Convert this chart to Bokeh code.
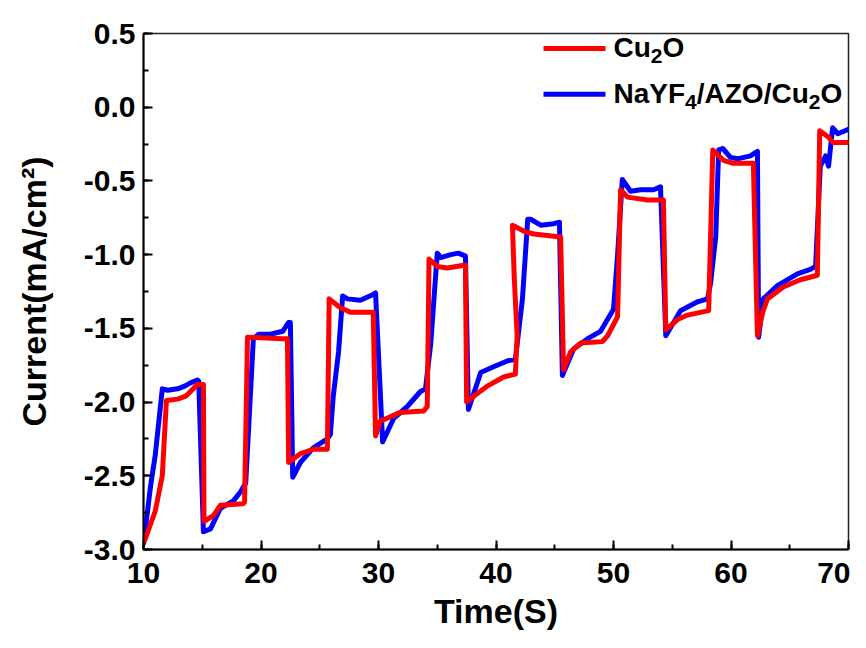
from bokeh.plotting import figure
from bokeh.models import Range1d, SingleIntervalTicker, NumeralTickFormatter, Label, BoxAnnotation
from bokeh.embed import file_html
from bokeh.resources import INLINE

# Cu2O
t_cu2o = [10.0, 11.0, 11.6, 11.95, 12.9, 13.6, 14.6, 15.1, 15.15, 15.95, 16.55, 18.45, 18.6, 18.85,
          21.9, 22.25, 22.35, 23.35, 24.5, 25.65, 25.8, 26.75, 27.6, 29.55, 29.75, 30.15, 31.85,
          33.85, 34.15, 34.3, 35.0, 35.85, 37.4, 37.5, 38.1, 39.3, 40.65, 41.65, 41.8, 41.55, 41.4,
          42.35, 43.2, 45.5, 45.75, 46.35, 47.2, 49.05, 49.5, 50.35, 50.6, 51.2, 52.9, 54.25, 54.45,
          55.45, 56.3, 58.1, 58.45, 59.35, 60.2, 61.9, 62.25, 62.7, 63.1, 64.45, 65.9, 67.35, 67.55,
          68.25, 68.7, 70.0]
j_cu2o = [-2.96, -2.74, -2.50, -1.99, -1.98, -1.96, -1.88, -1.88, -2.81, -2.77, -2.70, -2.69, -2.68, -1.56,
          -1.57, -1.57, -2.41, -2.35, -2.32, -2.32, -1.30, -1.36, -1.39, -1.39, -2.23, -2.13, -2.07,
          -2.06, -2.03, -1.03, -1.08, -1.09, -1.07, -2.00, -1.96, -1.89, -1.83, -1.81, -1.55, -1.15, -0.80,
          -0.84, -0.86, -0.88, -1.78, -1.66, -1.60, -1.59, -1.55, -1.42, -0.56, -0.61, -0.63, -0.63, -1.51,
          -1.44, -1.41, -1.38, -0.29, -0.36, -0.38, -0.38, -1.55, -1.39, -1.30, -1.22, -1.17, -1.14, -0.16,
          -0.20, -0.24, -0.24]

# NaYF4/AZO/Cu2O
t_nayf = [10.1, 10.6, 11.0, 11.6, 12.05, 12.9, 13.55, 14.0, 14.6, 14.7, 15.1, 15.7, 16.55, 17.65, 18.25,
          18.7, 19.35, 19.8, 20.8, 21.85, 22.35, 22.5, 22.7, 23.35, 24.45, 25.65, 25.9, 26.15, 26.6,
          26.95, 27.35, 28.45, 29.55, 29.75, 30.35, 31.3, 32.45, 33.55, 34.0, 34.45, 35.0, 35.3, 36.15,
          36.8, 37.4, 37.65, 38.7, 39.8, 41.0, 41.65, 42.25, 42.7, 42.95, 43.8, 44.9, 45.4, 45.65, 46.6,
          47.8, 48.9, 50.0, 50.35, 50.75, 51.45, 52.3, 53.4, 54.0, 54.45, 55.7, 57.15, 58.0, 58.25, 58.7,
          58.95, 59.3, 59.95, 60.55, 61.65, 62.25, 62.35, 62.75, 63.95, 65.65, 66.75, 67.2, 67.6, 68.05,
          68.3, 68.65, 69.1, 70.0]
j_nayf = [-2.90, -2.57, -2.36, -1.91, -1.92, -1.91, -1.89, -1.87, -1.85, -1.86, -2.88, -2.86, -2.72, -2.67,
          -2.61, -2.55, -1.57, -1.54, -1.54, -1.52, -1.46, -1.46, -2.51, -2.41, -2.31, -2.25, -2.22, -1.96,
          -1.66, -1.28, -1.30, -1.31, -1.27, -1.26, -2.27, -2.11, -2.03, -1.93, -1.91, -1.60, -0.99, -1.02,
          -1.00, -0.99, -1.01, -2.05, -1.80, -1.76, -1.72, -1.71, -1.30, -0.76, -0.76, -0.80, -0.79, -0.78,
          -1.82, -1.64, -1.57, -1.52, -1.37, -1.00, -0.49, -0.57, -0.56, -0.56, -0.54, -1.55, -1.38, -1.32,
          -1.30, -1.20, -0.88, -0.29, -0.28, -0.34, -0.35, -0.33, -0.30, -1.56, -1.30, -1.21, -1.13, -1.10,
          -1.08, -0.40, -0.33, -0.40, -0.14, -0.18, -0.15]

# legend texts split into (text, is_subscript) runs
legend_cu2o = [("Cu", False), ("2", True), ("O", False)]
legend_nayf = [("NaYF", False), ("4", True), ("/AZO/Cu", False), ("2", True), ("O", False)]
x_title = "Time(S)"
y_title = "Current(mA/cm\u00b2)"

FONT = "Liberation Sans"
X0, X1, Y0, Y1 = 10, 70, -3.0, 0.5
FL, FT, FW, FH = 143, 33, 705, 518   # frame placement in pixels

p = figure(width=850, height=632, output_backend="svg", toolbar_location=None,
           x_range=Range1d(X0, X1), y_range=Range1d(Y0, Y1),
           min_border_left=FL, min_border_right=850 - FL - FW,
           min_border_top=FT, min_border_bottom=632 - FT - FH)
p.background_fill_color = "white"
p.border_fill_color = "white"
p.grid.visible = False
p.outline_line_color = "#222222"
p.outline_line_width = 1.5

p.xaxis.ticker = SingleIntervalTicker(interval=10, num_minor_ticks=2)
p.yaxis.ticker = SingleIntervalTicker(interval=0.5, num_minor_ticks=2)
p.yaxis.formatter = NumeralTickFormatter(format="0.0")

for ax in (p.xaxis[0], p.yaxis[0]):
    ax.axis_line_width = 2
    ax.axis_line_color = "black"
    ax.major_tick_in = 9
    ax.major_tick_out = 0
    ax.minor_tick_in = 5
    ax.minor_tick_out = 0
    ax.major_tick_line_width = 2
    ax.minor_tick_line_width = 2
    ax.major_label_text_font = FONT
    ax.major_label_text_font_style = "bold"
    ax.major_label_text_font_size = "30px"
    ax.major_label_text_color = "black"
    ax.axis_label_text_font = FONT
    ax.axis_label_text_font_style = "bold"
    ax.axis_label_text_font_size = "34px"
    ax.axis_label_text_color = "black"

p.xaxis.axis_label = x_title
p.yaxis.axis_label = y_title
p.xaxis.major_label_standoff = 13
p.yaxis.major_label_standoff = 8
p.xaxis.axis_label_standoff = 6
p.yaxis.axis_label_standoff = 28

r_blue = p.line(t_nayf, j_nayf, line_color="#0000ff", line_width=5, line_join="round", line_cap="round")
r_red = p.line(t_cu2o, j_cu2o, line_color="#ff0000", line_width=5, line_join="round", line_cap="round")


def px2x(px):
    return X0 + (px - FL) * (X1 - X0) / FW


def py2y(py):
    return Y1 - (py - FT) * (Y1 - Y0) / FH


# hand-built legend (so subscripts can be drawn lowered, as in the original)
ADV = {"C": .722, "u": .611, "O": .778, "N": .722, "a": .556, "Y": .667, "F": .611,
       "/": .278, "A": .722, "Z": .611, "2": .556, "4": .556}
MAIN, SUB = 28, 21
for runs, color, row_py in ((legend_cu2o, "#ff0000", 48), (legend_nayf, "#0000ff", 94)):
    p.add_layout(BoxAnnotation(left=px2x(543), right=px2x(605),
                               bottom=py2y(row_py + 2.5), top=py2y(row_py - 2.5),
                               fill_color=color, fill_alpha=1, line_alpha=0))
    cur = 613.0
    for txt, sub in runs:
        size = SUB if sub else MAIN
        base = row_py - 1 + (9 if sub else 0)
        p.add_layout(Label(x=px2x(cur), y=py2y(base), text=txt,
                           text_font=FONT, text_font_style="bold",
                           text_font_size=f"{size}px", text_color="black",
                           text_baseline="alphabetic", text_align="left"))
        cur += sum(ADV[c] for c in txt) * size

open("out.html", "w").write(file_html(p, INLINE))
